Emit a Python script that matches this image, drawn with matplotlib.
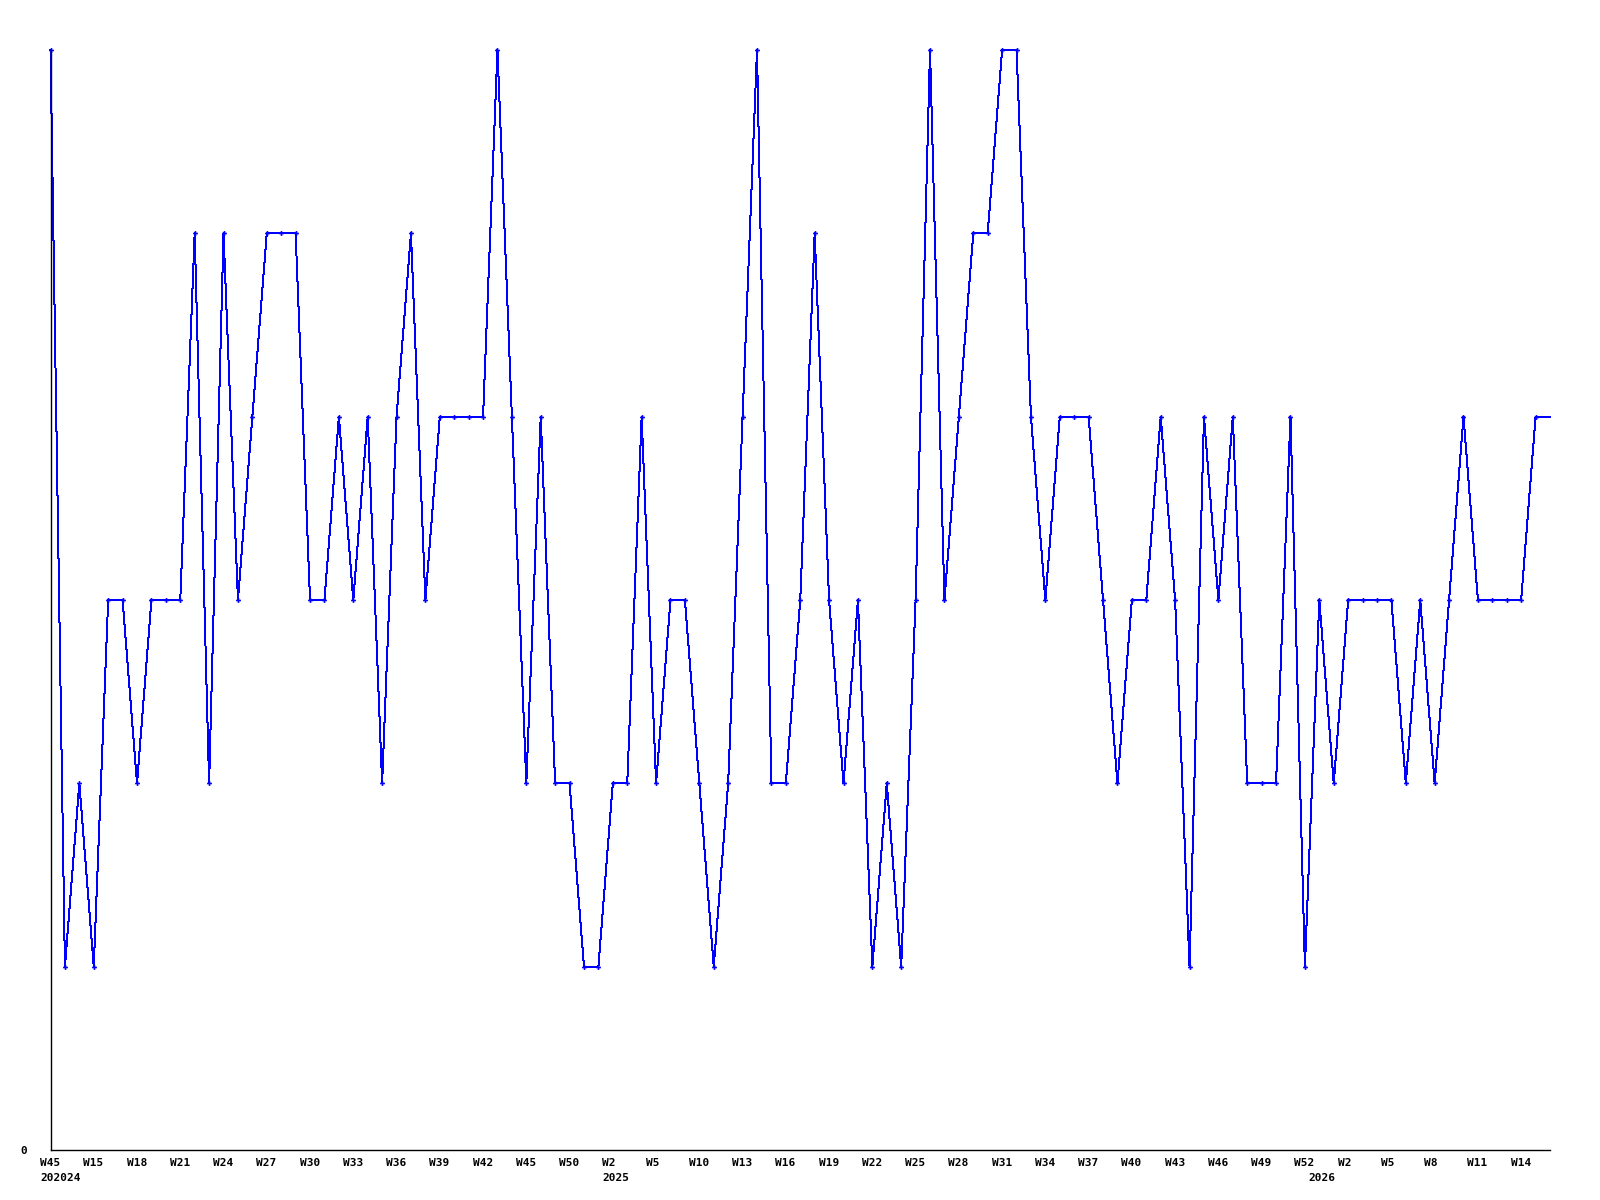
import matplotlib
matplotlib.use("Agg")
import matplotlib.pyplot as plt
import matplotlib.transforms as mtransforms

# weekly counts, one per plotted week (last point drawn without a marker)
values = [
    6, 1, 2, 1, 3, 3, 2, 3, 3, 3, 5, 2, 5, 3, 4, 5, 5, 5,
    3, 3, 4, 3, 4, 2, 4, 5, 3, 4, 4, 4, 4, 6, 4, 2, 4,
    2, 2, 1, 1, 2, 2, 4, 2, 3, 3, 2, 1, 2, 4, 6, 2, 2, 3,
    5, 3, 2, 3, 1, 2, 1, 3, 6, 3, 4, 5, 5, 6, 6, 4, 3,
    4, 4, 4, 3, 2, 3, 3, 4, 3, 1, 4, 3, 4, 2, 2, 2, 4,
    1, 3, 2, 3, 3, 3, 3, 2, 3, 2, 3, 4, 3, 3, 3, 3, 4, 4,
]

# tick labels every third point
tick_idx = list(range(0, 103, 3))
tick_weeks = [
    "W45", "W15", "W18", "W21", "W24", "W27", "W30", "W33", "W36", "W39",
    "W42", "W45", "W50", "W2", "W5", "W10", "W13", "W16", "W19", "W22",
    "W25", "W28", "W31", "W34", "W37", "W40", "W43", "W46", "W49", "W52",
    "W2", "W5", "W8", "W11", "W14",
]
year_idx = [0, 39, 88]
year_labels = ["202024", "2025", "2026"]

font = dict(family="DejaVu Sans Mono", weight="bold", size=8)

fig = plt.figure(figsize=(16, 12), dpi=100)
ax = fig.add_axes([50.5 / 1600, 50 / 1200, 1499.5 / 1600, 1100 / 1200])

x = list(range(len(values)))
ax.plot(x, values, color="#0000ff", linewidth=0.72, antialiased=False,
        marker="P", markersize=3.5, markeredgewidth=0,
        markevery=slice(0, len(values) - 1), clip_on=False)

ax.set_xlim(0, len(values) - 1)
ax.set_ylim(0, 6)

for side in ("top", "right"):
    ax.spines[side].set_visible(False)
for side in ("left", "bottom"):
    ax.spines[side].set_linewidth(1.0)
    ax.spines[side].set_color("black")

ax.set_yticks([0])
ax.set_yticklabels(["0"], **font)
ax.tick_params(axis="y", length=0, pad=17)

ax.set_xticks(tick_idx)
ax.set_xticklabels(tick_weeks, ha="left", **font)
ax.tick_params(axis="x", length=0, pad=6)
shift = mtransforms.ScaledTranslation(-10.5 / 100, 0, fig.dpi_scale_trans)
for lab in ax.get_xticklabels():
    lab.set_transform(lab.get_transform() + shift)

for i, yl in zip(year_idx, year_labels):
    ax.annotate(yl, xy=(i, 0), xycoords=("data", "axes fraction"),
                xytext=(-7.6, -16.5), textcoords="offset points",
                ha="left", va="top", **font)

fig.savefig("out.png", dpi=100, facecolor="white")
